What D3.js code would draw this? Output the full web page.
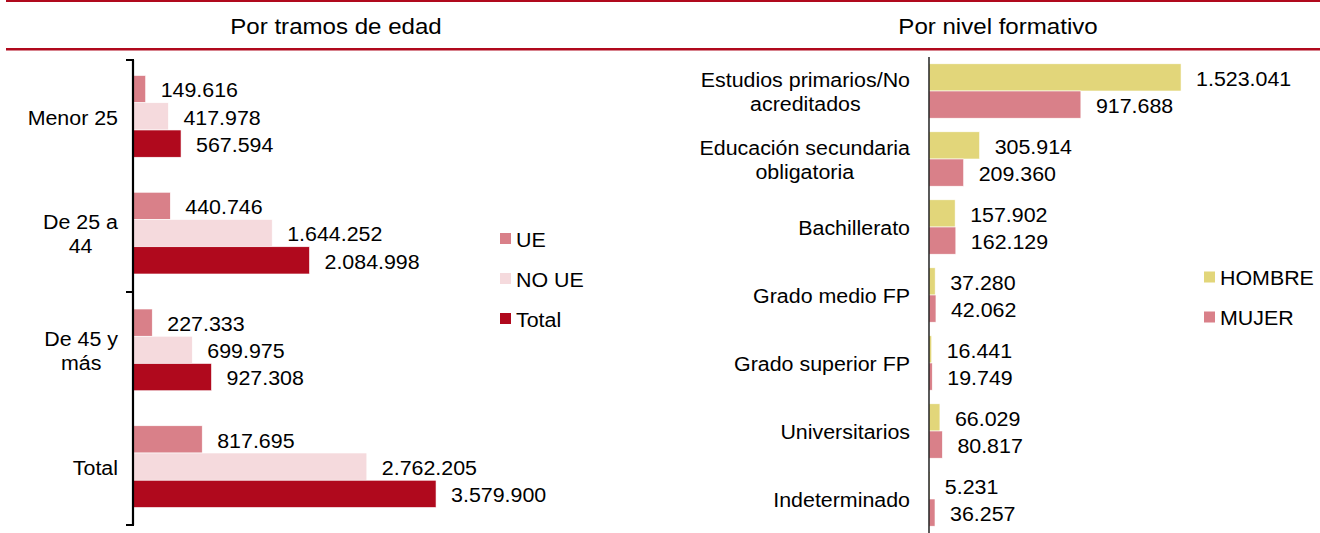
<!DOCTYPE html>
<html><head><meta charset="utf-8">
<script src="https://cdn.jsdelivr.net/npm/d3@7"></script>
<style>body{margin:0;background:#fff}svg{display:block}text{font-family:"Liberation Sans",Arial,sans-serif;fill:#000}</style>
</head><body><svg id="c" width="1320" height="533"></svg>
<script>
// ---- data ----
const ageCategories = [["Menor 25"], ["De 25 a", "44"], ["De 45 y", "más"], ["Total"]];
const ageSeries = ["UE", "NO UE", "Total"];
const ueValues = [149616, 440746, 227333, 817695];
const noUeValues = [417978, 1644252, 699975, 2762205];
const totalValues = [567594, 2084998, 927308, 3579900];

const eduCategories = [["Estudios primarios/No", "acreditados"], ["Educación secundaria", "obligatoria"], ["Bachillerato"], ["Grado medio FP"], ["Grado superior FP"], ["Universitarios"], ["Indeterminado"]];
const eduSeries = ["HOMBRE", "MUJER"];
const hombreValues = [1523041, 305914, 157902, 37280, 16441, 66029, 5231];
const mujerValues = [917688, 209360, 162129, 42062, 19749, 80817, 36257];

const titles = ["Por tramos de edad", "Por nivel formativo"];

// ---- styles ----
const RED = "#b0091d";
const ageColors = ["#d98089", "#f5dadd", "#b0091d"];
const eduColors = ["#e2d67a", "#d98089"];
const FS = 20, SX = 1.07;
const fmt = v => d3.format(",")(v).replace(/,/g, ".");

const svg = d3.select("#c");

function txt(g, x, y, s, anchor, size) {
  const t = g.append("text").attr("transform", `translate(${x},${y}) scale(${SX},1)`)
    .attr("font-size", size || FS).attr("dominant-baseline", "central")
    .attr("text-anchor", anchor || "start").text(s);
  return t;
}

// header lines & titles
svg.append("rect").attr("x", 6).attr("y", 0).attr("width", 1314).attr("height", 2).attr("fill", RED);
svg.append("rect").attr("x", 6).attr("y", 48).attr("width", 1314).attr("height", 2.5).attr("fill", RED);
txt(svg, 336, 26, titles[0], "middle", 22.5);
txt(svg, 998, 26, titles[1], "middle", 22.5);

function chart(opts) {
  const {cats, series, values, colors, x0, x1, domainMax, y0, y1, pi, po, axisW, legX, legY, legStep} = opts;
  const g = svg.append("g");
  const idx = d3.range(cats.length);
  const x = d3.scaleLinear().domain([0, domainMax]).range([x0, x1]);
  const y = d3.scaleBand().domain(idx).range([y0, y1]).paddingInner(pi).paddingOuter(po);
  const ys = d3.scaleBand().domain(d3.range(series.length)).range([0, y.bandwidth()]);
  series.forEach((s, si) => {
    const vals = values[si];
    g.selectAll(null).data(idx).enter().append("rect")
      .attr("x", x(0)).attr("y", i => y(i) + ys(si))
      .attr("width", i => x(vals[i]) - x(0)).attr("height", ys.bandwidth())
      .attr("fill", colors[si]).attr("stroke", "#fff").attr("stroke-width", 0.6);
    idx.forEach(i => txt(g, x(vals[i]) + 15, y(i) + ys(si) + ys.bandwidth() / 2 + 1, fmt(vals[i])));
  });
  // category labels
  idx.forEach(i => {
    const lines = cats[i];
    const cy = y(i) + y.bandwidth() / 2;
    const lh = 24;
    const tmp = lines.map(l => txt(g, 0, 0, l, "middle"));
    const widths = tmp.map(t => t.node().getComputedTextLength() * SX);
    tmp.forEach(t => t.remove());
    const w = d3.max(widths);
    const cx = x0 - opts.labelGap - w / 2;
    lines.forEach((l, li) => txt(g, cx, cy + (li - (lines.length - 1) / 2) * lh + 1, l, "middle"));
  });
  // axis
  g.append("line").attr("x1", x0).attr("x2", x0).attr("y1", opts.axisTop).attr("y2", y1)
    .attr("stroke", "#000").attr("stroke-width", axisW);
  // legend
  series.forEach((s, si) => {
    g.append("rect").attr("x", legX).attr("y", legY + si * legStep - 5.5).attr("width", 11).attr("height", 11).attr("fill", colors[si]);
    txt(g, legX + 16, legY + si * legStep + 1, s);
  });
  return {g, x, y};
}

const left = chart({cats: ageCategories, series: ageSeries, values: [ueValues, noUeValues, totalValues], colors: ageColors,
  x0: 133, x1: 471.6, domainMax: 4000000, y0: 58, y1: 525, axisTop: 60, pi: 0.3, po: 0.15, axisW: 2.2, labelGap: 15,
  legX: 500, legY: 238.5, legStep: 40});
// bracket ticks
[60, 292, 525].forEach(t => left.g.append("line").attr("x1", 126).attr("x2", 134).attr("y1", t).attr("y2", t)
  .attr("stroke", "#000").attr("stroke-width", 2));

chart({cats: eduCategories, series: eduSeries, values: [hombreValues, mujerValues], colors: eduColors,
  x0: 929, x1: 1260, domainMax: 2000000, y0: 57, y1: 533, axisTop: 57, pi: 0.2, po: 0.1, axisW: 1.3, labelGap: 19,
  legX: 1204, legY: 277, legStep: 40});
</script></body></html>
